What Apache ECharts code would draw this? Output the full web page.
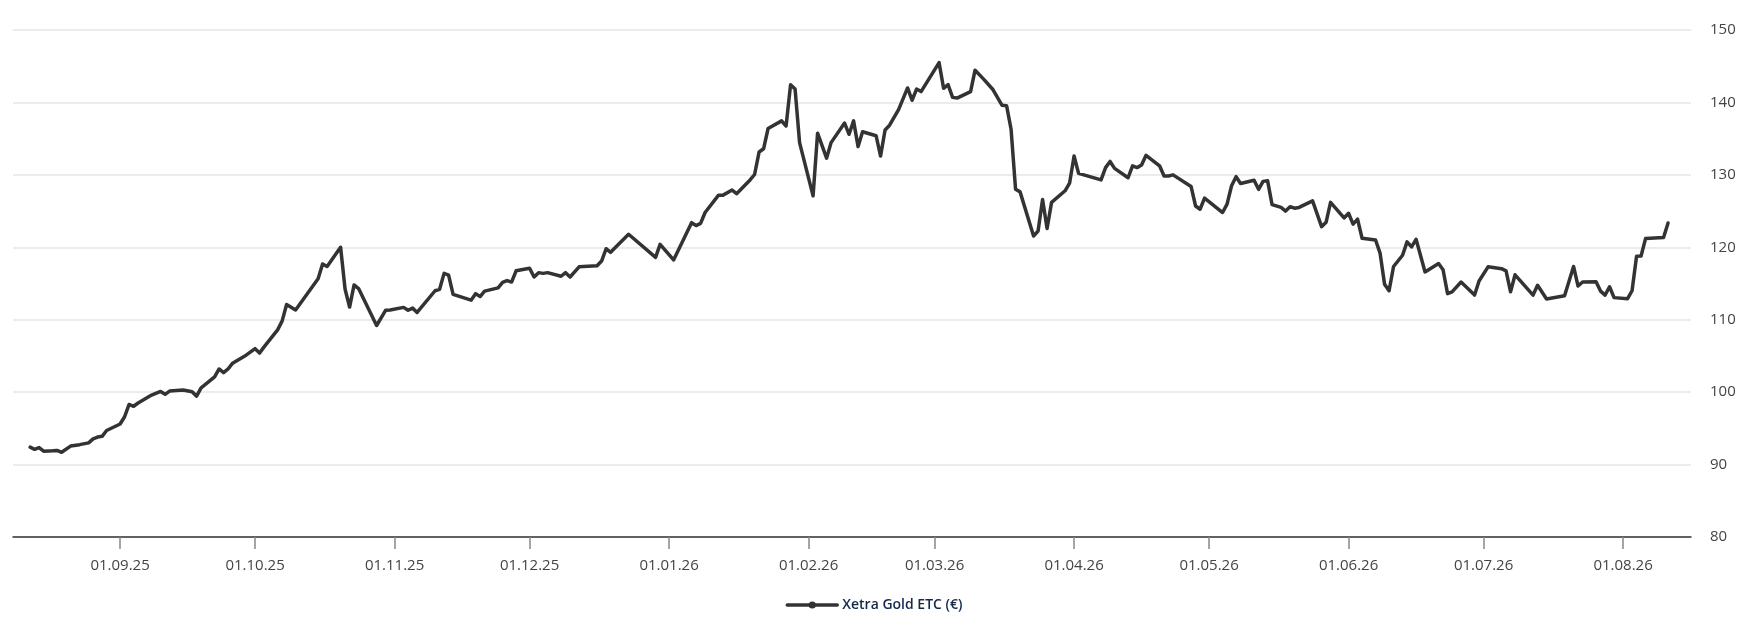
<!DOCTYPE html>
<html>
<head>
<meta charset="utf-8">
<script src="https://cdn.jsdelivr.net/npm/echarts@6/dist/echarts.min.js"></script>
<style>
html,body{margin:0;padding:0;background:#fff;}
#chart{width:1748px;height:632px;}
</style>
</head>
<body>
<div id="chart"></div>
<script>
const dates = [
'2025-08-12','2025-08-13','2025-08-14','2025-08-15','2025-08-17','2025-08-18','2025-08-19','2025-08-21','2025-08-23','2025-08-25',
'2025-08-26','2025-08-27','2025-08-28','2025-08-29','2025-09-01','2025-09-02','2025-09-03','2025-09-04','2025-09-05','2025-09-08',
'2025-09-10','2025-09-11','2025-09-12','2025-09-15','2025-09-17','2025-09-18','2025-09-19','2025-09-22','2025-09-23','2025-09-24',
'2025-09-25','2025-09-26','2025-09-29','2025-10-01','2025-10-02','2025-10-03','2025-10-06','2025-10-07','2025-10-08','2025-10-10',
'2025-10-15','2025-10-16','2025-10-17','2025-10-20','2025-10-21','2025-10-22','2025-10-23','2025-10-24','2025-10-28','2025-10-30',
'2025-10-31','2025-11-03','2025-11-04','2025-11-05','2025-11-06','2025-11-10','2025-11-11','2025-11-12','2025-11-13','2025-11-14',
'2025-11-18','2025-11-19','2025-11-20','2025-11-21','2025-11-24','2025-11-25','2025-11-26','2025-11-27','2025-11-28','2025-12-01',
'2025-12-02','2025-12-03','2025-12-04','2025-12-05','2025-12-08','2025-12-09','2025-12-10','2025-12-12','2025-12-16','2025-12-17',
'2025-12-18','2025-12-19','2025-12-23','2025-12-29','2025-12-30','2026-01-02','2026-01-06','2026-01-07','2026-01-08','2026-01-09',
'2026-01-12','2026-01-13','2026-01-15','2026-01-16','2026-01-19','2026-01-20','2026-01-21','2026-01-22','2026-01-23','2026-01-26',
'2026-01-27','2026-01-28','2026-01-29','2026-01-30','2026-02-02','2026-02-03','2026-02-05','2026-02-06','2026-02-09','2026-02-10',
'2026-02-11','2026-02-12','2026-02-13','2026-02-16','2026-02-17','2026-02-18','2026-02-19','2026-02-21','2026-02-23','2026-02-24',
'2026-02-25','2026-02-26','2026-03-02','2026-03-03','2026-03-04','2026-03-05','2026-03-06','2026-03-09','2026-03-10','2026-03-11',
'2026-03-12','2026-03-14','2026-03-16','2026-03-17','2026-03-18','2026-03-19','2026-03-20','2026-03-23','2026-03-24','2026-03-25',
'2026-03-26','2026-03-27','2026-03-30','2026-03-31','2026-04-01','2026-04-02','2026-04-07','2026-04-08','2026-04-09','2026-04-10',
'2026-04-13','2026-04-14','2026-04-15','2026-04-16','2026-04-17','2026-04-20','2026-04-21','2026-04-22','2026-04-23','2026-04-27',
'2026-04-28','2026-04-29','2026-04-30','2026-05-04','2026-05-05','2026-05-06','2026-05-07','2026-05-08','2026-05-11','2026-05-12',
'2026-05-13','2026-05-14','2026-05-15','2026-05-17','2026-05-18','2026-05-19','2026-05-20','2026-05-21','2026-05-24','2026-05-26',
'2026-05-27','2026-05-28','2026-05-31','2026-06-01','2026-06-02','2026-06-03','2026-06-04','2026-06-07','2026-06-08','2026-06-09',
'2026-06-10','2026-06-11','2026-06-13','2026-06-14','2026-06-15','2026-06-16','2026-06-18','2026-06-21','2026-06-22','2026-06-23',
'2026-06-24','2026-06-26','2026-06-29','2026-06-30','2026-07-02','2026-07-05','2026-07-06','2026-07-07','2026-07-08','2026-07-12',
'2026-07-13','2026-07-15','2026-07-19','2026-07-21','2026-07-22','2026-07-23','2026-07-26','2026-07-27','2026-07-28','2026-07-29',
'2026-07-30','2026-08-02','2026-08-03','2026-08-04','2026-08-05','2026-08-06','2026-08-10','2026-08-11'
];
const prices = [
92.4,92.1,92.35,91.85,91.9,91.95,91.7,92.55,92.75,93.0,
93.55,93.8,93.9,94.7,95.6,96.6,98.3,98.05,98.5,99.6,
100.1,99.7,100.15,100.3,100.05,99.45,100.6,102.1,103.2,102.7,
103.2,104.0,105.1,106.0,105.4,106.25,108.6,109.8,112.1,111.35,
115.65,117.7,117.35,120.0,114.2,111.75,114.8,114.3,109.2,111.3,
111.35,111.7,111.3,111.6,111.0,114.0,114.2,116.4,116.15,113.5,
112.7,113.6,113.2,113.95,114.4,115.15,115.4,115.2,116.75,117.1,
115.9,116.5,116.4,116.5,116.0,116.5,115.9,117.3,117.45,118.1,
119.8,119.3,121.8,118.6,120.4,118.25,123.4,123.0,123.3,124.8,
127.2,127.2,127.9,127.4,129.3,130.05,133.15,133.6,136.4,137.45,
136.75,142.45,141.85,134.45,127.1,135.75,132.3,134.45,137.15,135.6,
137.45,133.9,135.95,135.4,132.6,136.2,136.85,139.0,142.0,140.3,
141.85,141.5,145.5,141.95,142.45,140.7,140.6,141.5,144.45,143.8,
143.15,141.75,139.6,139.55,136.3,128.0,127.65,121.55,122.25,126.6,
122.6,126.2,127.8,128.85,132.6,130.2,129.3,131.0,131.85,130.9,
129.6,131.25,131.0,131.35,132.7,131.25,129.85,129.85,130.0,128.4,
125.7,125.25,126.8,124.8,125.95,128.5,129.75,128.8,129.25,128.0,
129.1,129.2,125.9,125.5,125.0,125.6,125.4,125.5,126.4,122.85,
123.45,126.2,124.05,124.7,123.2,123.9,121.25,121.0,119.2,114.9,
114.0,117.35,118.9,120.75,120.05,121.1,116.6,117.75,116.9,113.6,
113.85,115.2,113.4,115.35,117.3,117.05,116.75,113.85,116.2,113.4,
114.75,112.85,113.3,117.35,114.65,115.2,115.25,113.95,113.4,114.55,
113.05,112.9,114.0,118.75,118.8,121.2,121.35,123.35
];
const tickDates = ['2025-09-01','2025-10-01','2025-11-01','2025-12-01','2026-01-01','2026-02-01','2026-03-01','2026-04-01','2026-05-01','2026-06-01','2026-07-01','2026-08-01'];
const tickLabels = ['01.09.25','01.10.25','01.11.25','01.12.25','01.01.26','01.02.26','01.03.26','01.04.26','01.05.26','01.06.26','01.07.26','01.08.26'];
const seriesName = 'Xetra Gold ETC (€)';

function ts(s){ const p = s.split('-'); return Date.UTC(+p[0], +p[1]-1, +p[2]); }
const tickTimes = tickDates.map(ts);
const DAY = 86400000;
const xMin = ts('2025-08-08') + 0.2*DAY;
const xMax = ts('2026-08-16') + 0.1*DAY;

const chart = echarts.init(document.getElementById('chart'));
chart.setOption({
  animation: false,
  backgroundColor: '#fff',
  textStyle: { fontFamily: 'Open Sans' },
  grid: { left: 13, right: 57, top: 30, bottom: 95 },
  legend: {
    bottom: 15,
    left: 'center',
    itemWidth: 50,
    itemHeight: 9,
    itemGap: 8,
    data: [seriesName],
    lineStyle: { width: 3.5, color: '#333' },
    itemStyle: { color: '#333' },
    textStyle: { color: '#13294b', fontSize: 14, fontWeight: 600, fontFamily: 'Open Sans' }
  },
  xAxis: {
    type: 'value',
    min: xMin,
    max: xMax,
    axisLine: { show: true, lineStyle: { color: '#333', width: 1.5 } },
    axisTick: { show: true, length: 12, lineStyle: { color: '#888', width: 1.5 }, customValues: tickTimes },
    splitLine: { show: false },
    axisLabel: {
      customValues: tickTimes,
      margin: 21,
      color: '#444',
      fontSize: 15,
      fontFamily: 'Open Sans',
      formatter: function (v) {
        const i = tickTimes.indexOf(+v);
        return i >= 0 ? tickLabels[i] : '';
      }
    }
  },
  yAxis: {
    type: 'value',
    position: 'right',
    min: 80,
    max: 150,
    interval: 10,
    axisLine: { show: false },
    axisTick: { show: false },
    splitLine: { lineStyle: { color: '#e6e6e6', width: 1.5 } },
    axisLabel: { margin: 19, align: 'left', color: '#444', fontSize: 15, fontFamily: 'Open Sans' }
  },
  series: [{
    name: seriesName,
    type: 'line',
    data: dates.map((d, i) => [ts(d), prices[i]]),
    showSymbol: false,
    symbol: 'circle',
    symbolSize: 8,
    lineStyle: { color: '#333', width: 3.5, join: 'round', cap: 'round' },
    itemStyle: { color: '#333' }
  }]
});
</script>
</body>
</html>
